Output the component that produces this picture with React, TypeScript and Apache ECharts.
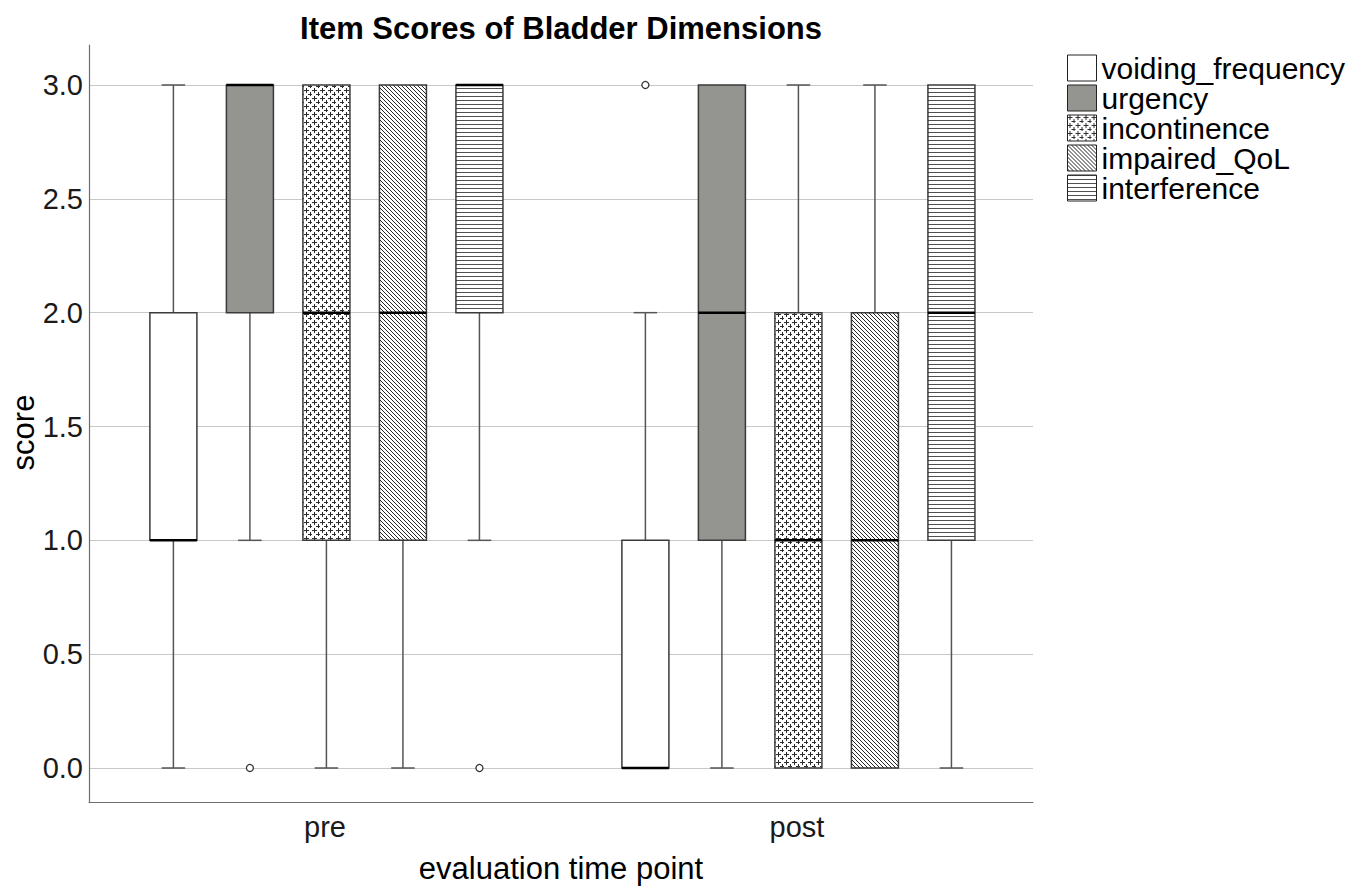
import React, { useEffect, useRef } from "react";
import * as echarts from "echarts";

// ---------------- data ----------------
const categories = ["pre", "post"];
const itemNames = ["voiding_frequency", "urgency", "incontinence", "impaired_QoL", "interference"];
// five-number summaries [min, Q1, median, Q3, max] for pre / post
const voidingFrequency = [[0, 1, 1, 2, 3], [0, 0, 0, 1, 2]];
const urgency = [[1, 2, 3, 3, 3], [0, 1, 2, 3, 3]];
const incontinence = [[0, 1, 2, 3, 3], [0, 0, 1, 2, 3]];
const impairedQoL = [[0, 1, 2, 3, 3], [0, 0, 1, 2, 3]];
const interference = [[1, 2, 3, 3, 3], [0, 1, 2, 3, 3]];
// outliers: [category index, item index, value]
const outliers = [
  [0, 1, 0],
  [0, 4, 0],
  [1, 0, 3],
];
const yTicks = { min: 0, max: 3, interval: 0.5 };

const FONT = "'Liberation Sans', Arial, Helvetica, sans-serif";

function makePattern(kind: string): any {
  if (kind === "white") return "#ffffff";
  if (kind === "gray") return "#949490";
  const c = document.createElement("canvas");
  let w = 8, h = 8;
  if (kind === "diag") { w = 4; h = 4; }
  if (kind === "hlines") { w = 4; h = 4; }
  c.width = w; c.height = h;
  const ctx = c.getContext("2d")!;
  ctx.fillStyle = "#ffffff";
  ctx.fillRect(0, 0, w, h);
  if (kind === "plus") {
    ctx.fillStyle = "#2e2e2e";
    const pts = [[2, 2], [6, 6]];
    for (const [cx, cy] of pts) {
      ctx.fillRect(cx - 2, cy, 5, 1);
      ctx.fillRect(cx, cy - 2, 1, 5);
    }
  } else if (kind === "diag") {
    ctx.fillStyle = "#262626";
    for (let i = 0; i < w; i++) ctx.fillRect(i, i, 1, 1);
  } else if (kind === "hlines") {
    ctx.fillStyle = "#505050";
    ctx.fillRect(0, 0, w, 1);
  }
  return { image: c, repeat: "repeat", imageWidth: w, imageHeight: h };
}

const itemData = [voidingFrequency, urgency, incontinence, impairedQoL, interference];
const patternKinds = ["white", "gray", "plus", "diag", "hlines"];

// layout fractions of the category band width
const STEP = 0.1621;
const CENTER_SHIFT = 0.003;
const BOX_FRAC = 0.0996;
const offsetFor = (k: number) => (k - 2) * STEP + CENTER_SHIFT;

export default function App() {
  const ref = useRef<HTMLDivElement>(null);
  useEffect(() => {
    if (!ref.current) return;
    const chart = echarts.init(ref.current, null, { renderer: "svg" });
    const fills = patternKinds.map(makePattern);

    const boxSeries = itemNames.map((name, k) => ({
      type: "custom",
      name,
      xAxisIndex: 0,
      yAxisIndex: 0,
      itemStyle: { color: fills[k], borderColor: "#333" },
      encode: { x: 0, y: [1, 2, 3, 4, 5] },
      data: itemData[k].map((s, ci) => [ci, ...s]),
      renderItem: (params: any, api: any) => {
        const cat = api.value(0);
        const bw = api.size([1, 0])[0];
        const xc = api.coord([cat, 0])[0] + bw * offsetFor(k);
        const boxW = bw * BOX_FRAC;
        const yv = (i: number) => api.coord([cat, api.value(i)])[1];
        const yMin = yv(1), yQ1 = yv(2), yMed = yv(3), yQ3 = yv(4), yMax = yv(5);
        const whisker = { stroke: "#555", lineWidth: 1.5 };
        const children: any[] = [];
        if (yQ3 - yMax > 0.5) {
          children.push({ type: "line", shape: { x1: xc, y1: yMax, x2: xc, y2: yQ3 }, style: whisker });
          children.push({ type: "line", shape: { x1: xc - boxW / 4, y1: yMax, x2: xc + boxW / 4, y2: yMax }, style: whisker });
        }
        if (yMin - yQ1 > 0.5) {
          children.push({ type: "line", shape: { x1: xc, y1: yQ1, x2: xc, y2: yMin }, style: whisker });
          children.push({ type: "line", shape: { x1: xc - boxW / 4, y1: yMin, x2: xc + boxW / 4, y2: yMin }, style: whisker });
        }
        children.push({
          type: "rect",
          shape: { x: xc - boxW / 2, y: yQ3, width: boxW, height: yQ1 - yQ3 },
          style: { fill: fills[k], stroke: "#3a3a3a", lineWidth: 1.5 },
        });
        children.push({
          type: "line",
          shape: { x1: xc - boxW / 2, y1: yMed, x2: xc + boxW / 2, y2: yMed },
          style: { stroke: "#000", lineWidth: 2.5 },
        });
        return { type: "group", children };
      },
    }));

    const outlierSeries = {
      type: "custom",
      name: "outliers",
      xAxisIndex: 0,
      yAxisIndex: 0,
      encode: { x: 0, y: 2 },
      data: outliers,
      renderItem: (params: any, api: any) => {
        const cat = api.value(0);
        const k = api.value(1);
        const bw = api.size([1, 0])[0];
        const p = api.coord([cat, api.value(2)]);
        return {
          type: "circle",
          shape: { cx: p[0] + bw * offsetFor(k), cy: p[1], r: 3.5 },
          style: { fill: "#fff", stroke: "#333", lineWidth: 1.3 },
        };
      },
    };

    const option: any = {
      animation: false,
      backgroundColor: "#ffffff",
      textStyle: { fontFamily: FONT },
      title: {
        text: "Item Scores of Bladder Dimensions",
        left: 561,
        top: 13,
        textAlign: "center",
        padding: 0,
        textStyle: { fontSize: 31, fontWeight: "bold", color: "#000", fontFamily: FONT },
      },
      legend: {
        orient: "vertical",
        left: 1067,
        top: 53,
        padding: 0,
        itemWidth: 29,
        itemHeight: 26,
        itemGap: 0,
        selectedMode: false,
        textStyle: { fontSize: 30, color: "#000", fontFamily: FONT },
        data: itemNames.map((name, k) => ({
          name,
          icon: "rect",
          itemStyle: { color: fills[k], borderColor: "#222", borderWidth: 1 },
        })),
      },
      grid: [
        { left: 89, right: 336, top: 85, bottom: 121 },
        { left: 89, right: 336, top: 45, bottom: 83 },
      ],
      xAxis: [
        { type: "category", data: categories, gridIndex: 0, show: false },
        {
          type: "category",
          data: categories,
          gridIndex: 1,
          axisLine: { show: true, lineStyle: { color: "#6e6e6e", width: 1.2 } },
          axisTick: { show: false },
          axisLabel: { fontSize: 29, color: "#1a1a1a", margin: 10, fontFamily: FONT },
          name: "evaluation time point",
          nameLocation: "middle",
          nameGap: 51,
          nameTextStyle: { fontSize: 31, color: "#000", fontFamily: FONT },
        },
      ],
      yAxis: [
        {
          type: "value",
          gridIndex: 0,
          min: yTicks.min,
          max: yTicks.max,
          interval: yTicks.interval,
          axisLine: { show: false },
          axisTick: { show: false },
          axisLabel: {
            fontSize: 29,
            color: "#1a1a1a",
            margin: 6,
            fontFamily: FONT,
            formatter: (v: number) => v.toFixed(1),
          },
          splitLine: { show: true, lineStyle: { color: "#c8c8c8", width: 1.2 } },
        },
        {
          type: "value",
          gridIndex: 1,
          min: 0,
          max: 1,
          axisLine: { show: true, lineStyle: { color: "#6e6e6e", width: 1.2 } },
          axisTick: { show: false },
          axisLabel: { show: false },
          splitLine: { show: false },
          name: "score",
          nameLocation: "middle",
          nameGap: 50,
          nameTextStyle: { fontSize: 31, color: "#000", fontFamily: FONT, padding: [0, 18, 0, 0] },
        },
      ],
      series: [...boxSeries, outlierSeries],
    };
    chart.setOption(option);
    return () => chart.dispose();
  }, []);
  return (
    <div
      ref={ref}
      style={{ position: "fixed", left: 0, top: 0, width: 1369, height: 889, background: "#fff" }}
    />
  );
}
